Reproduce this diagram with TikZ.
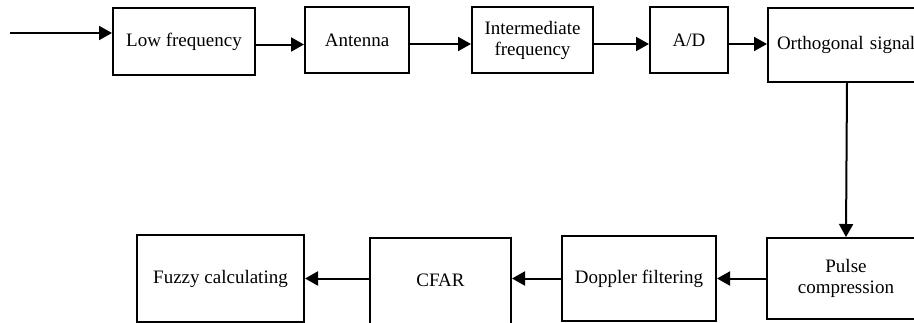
\documentclass[tikz,border=0pt]{standalone}
\usepackage{fontspec}
\setmainfont{Liberation Serif}
\usetikzlibrary{arrows.meta}
\tikzset{
  block/.style={draw, line width=2pt, minimum height=66pt, inner sep=2pt, align=center, font=\fontsize{19}{21}\selectfont},
  flow/.style={line width=2pt, -{Triangle[length=13pt, width=14pt]}}
}

\begin{document}
\begin{tikzpicture}[x=1pt, y=-1pt]
		\useasboundingbox (0,0) rectangle (914,322);
		% upper row
		\node[block, minimum width=142pt, minimum height=67pt] (low) at (184,41.5) {Low frequency};
		\node[block, minimum width=104pt] (ant) at (357,40) {Antenna};
		\node[block, minimum width=121pt] (inter) at (532.5,40) {Intermediate\\frequency};
		\node[block, minimum width=78pt] (ad) at (689,40) {A/D};
		\node[block, anchor=west, minimum height=74pt, text width=140pt, inner xsep=9pt, align=left] (orth) at (767,45) {Orthogonal signal};
		% lower row
		\node[block, minimum width=159pt, minimum height=81pt] (pulse) at (846,278.5) {Pulse\\compression};
		\node[block, minimum width=154pt, minimum height=85pt] (dop) at (639,278.5) {Doppler filtering};
		\node[block, minimum width=141pt, minimum height=92pt, text depth=8pt] (cfar) at (440.5,284) {CFAR};
		\node[block, minimum width=167pt, minimum height=87pt] (fuzzy) at (220.5,278.5) {Fuzzy calculating};
		% connections
		\coordinate (in) at (10,33);
		\draw[flow] (in) -- (in -| low.west);
		\draw[flow] ([yshift=-3pt]low.east) -- ([yshift=-3pt]ant.west |- low.east);
		\draw[flow] ([yshift=-4pt]ant.east) -- ([yshift=-4pt]inter.west);
		\draw[flow] ([yshift=-4pt]inter.east) -- ([yshift=-4pt]ad.west);
		\draw[flow] ([yshift=-4pt]ad.east) -- ([yshift=-4pt]ad.east -| orth.west);
		\draw[flow] (orth.south) -- (pulse.north);
		\draw[flow] (pulse.west) -- (dop.east);
		\draw[flow] (dop.west) -- (cfar.east |- dop.west);
		\draw[flow] (cfar.west |- dop.west) -- (fuzzy.east);
	\end{tikzpicture}
\end{document}
